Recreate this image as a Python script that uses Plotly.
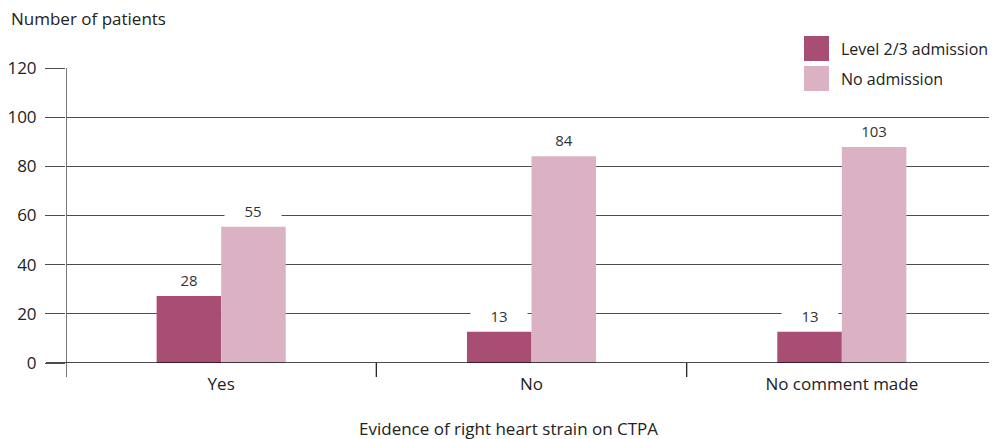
import plotly.graph_objects as go

categories = ["Yes", "No", "No comment made"]
level_values = [27.3, 12.7, 12.7]
level_labels = ["28", "13", "13"]
none_values = [55.4, 84.1, 87.9]
none_labels = ["55", "84", "103"]
series_names = ["Level 2/3 admission", "No admission"]
y_ticks = [0, 20, 40, 60, 80, 100, 120]

DARK = "#A84E74"
LIGHT = "#DBB2C3"
FONT = "Open Sans"
GRID = "#4d4d4d"

# page body has an 8px margin, so the figure is drawn 8px in from the top-left
OFF = 8
W, H = 997 - OFF, 439 - OFF
L, R, T, B = 66 - OFF, 0, 68 - OFF, 76
PW, PH = W - L - R, H - T - B
X0, Y0 = 66, 363  # plot origin in page pixels


def px_x(p):
    return (p - X0) / PW


def px_y(p):
    return (Y0 - p) / PH


fig = go.Figure()
fig.add_trace(go.Bar(x=categories, y=level_values, name=series_names[0],
                     marker=dict(color=DARK, line=dict(width=0)), showlegend=False))
fig.add_trace(go.Bar(x=categories, y=none_values, name=series_names[1],
                     marker=dict(color=LIGHT, line=dict(width=0)), showlegend=False))

bar_px = PW / 3 * (1 - 0.584) / 2
annotations = []
for i, c in enumerate(categories):
    for vals, labs, sh in ((level_values, level_labels, -bar_px / 2),
                           (none_values, none_labels, bar_px / 2)):
        annotations.append(dict(x=c, y=vals[i], xref="x", yref="y", text=labs[i],
                                showarrow=False, xshift=sh, yshift=16, yanchor="middle",
                                bgcolor="white", width=52, height=18, borderpad=2,
                                font=dict(family=FONT, size=15, color="#333333")))

annotations.append(dict(x=px_x(9), y=px_y(19), xref="paper", yref="paper",
                        text="Number of patients", showarrow=False, xanchor="left",
                        yanchor="middle", font=dict(family=FONT, size=17, color="#222222")))
annotations.append(dict(x=px_x(508), y=px_y(428), xref="paper", yref="paper",
                        text="Evidence of right heart strain on CTPA", showarrow=False,
                        xanchor="center", yanchor="middle",
                        font=dict(family=FONT, size=17, color="#222222")))

shapes = []
# white legend background covering the top gridline
shapes.append(dict(type="rect", xref="paper", yref="paper", x0=px_x(799), x1=px_x(997),
                   y0=px_y(95), y1=px_y(30), fillcolor="white", line=dict(width=0),
                   layer="above"))
legend_rows = [(36, 61, DARK, series_names[0], 49), (66, 91, LIGHT, series_names[1], 79)]
for y0, y1, col, name, yc in legend_rows:
    shapes.append(dict(type="rect", xref="paper", yref="paper", x0=px_x(804), x1=px_x(829),
                       y0=px_y(y1), y1=px_y(y0), fillcolor=col, line=dict(width=0),
                       layer="above"))
    annotations.append(dict(x=px_x(839), y=px_y(yc), xref="paper", yref="paper", text=name,
                            showarrow=False, xanchor="left", yanchor="middle",
                            font=dict(family=FONT, size=16, color="#222222")))

# y axis line extending below zero
shapes.append(dict(type="line", xref="x", yref="paper", x0=-0.5, x1=-0.5,
                   y0=px_y(377), y1=1, line=dict(color=GRID, width=1.5), layer="above"))
# category separator ticks
for xb in (0.5, 1.5):
    shapes.append(dict(type="line", xref="x", yref="paper", x0=xb, x1=xb,
                       y0=px_y(377), y1=0, line=dict(color="#222222", width=1.3),
                       layer="above"))
# x axis baseline
shapes.append(dict(type="line", xref="paper", yref="y", x0=px_x(46), x1=1, y0=0, y1=0,
                   line=dict(color="#111111", width=1.6), layer="above"))

fig.update_layout(
    width=W, height=H,
    margin=dict(l=L, r=R, t=T, b=B),
    paper_bgcolor="white", plot_bgcolor="white",
    barmode="group", bargap=0.584, bargroupgap=0,
    showlegend=False,
    annotations=annotations, shapes=shapes,
    xaxis=dict(range=[-0.5, 2.5], showgrid=False, showline=False, ticks="",
               ticklabelstandoff=9, zeroline=False,
               tickfont=dict(family=FONT, size=17, color="#222222")),
    yaxis=dict(range=[0, 120], tickvals=y_ticks, showgrid=True, gridcolor=GRID,
               gridwidth=1.3, ticks="outside", ticklen=20, tickcolor=GRID, tickwidth=1.3,
               showline=False, zeroline=False, ticklabelstandoff=5,
               tickfont=dict(family=FONT, size=17, color="#222222")),
)

fig.write_html("out.html")
